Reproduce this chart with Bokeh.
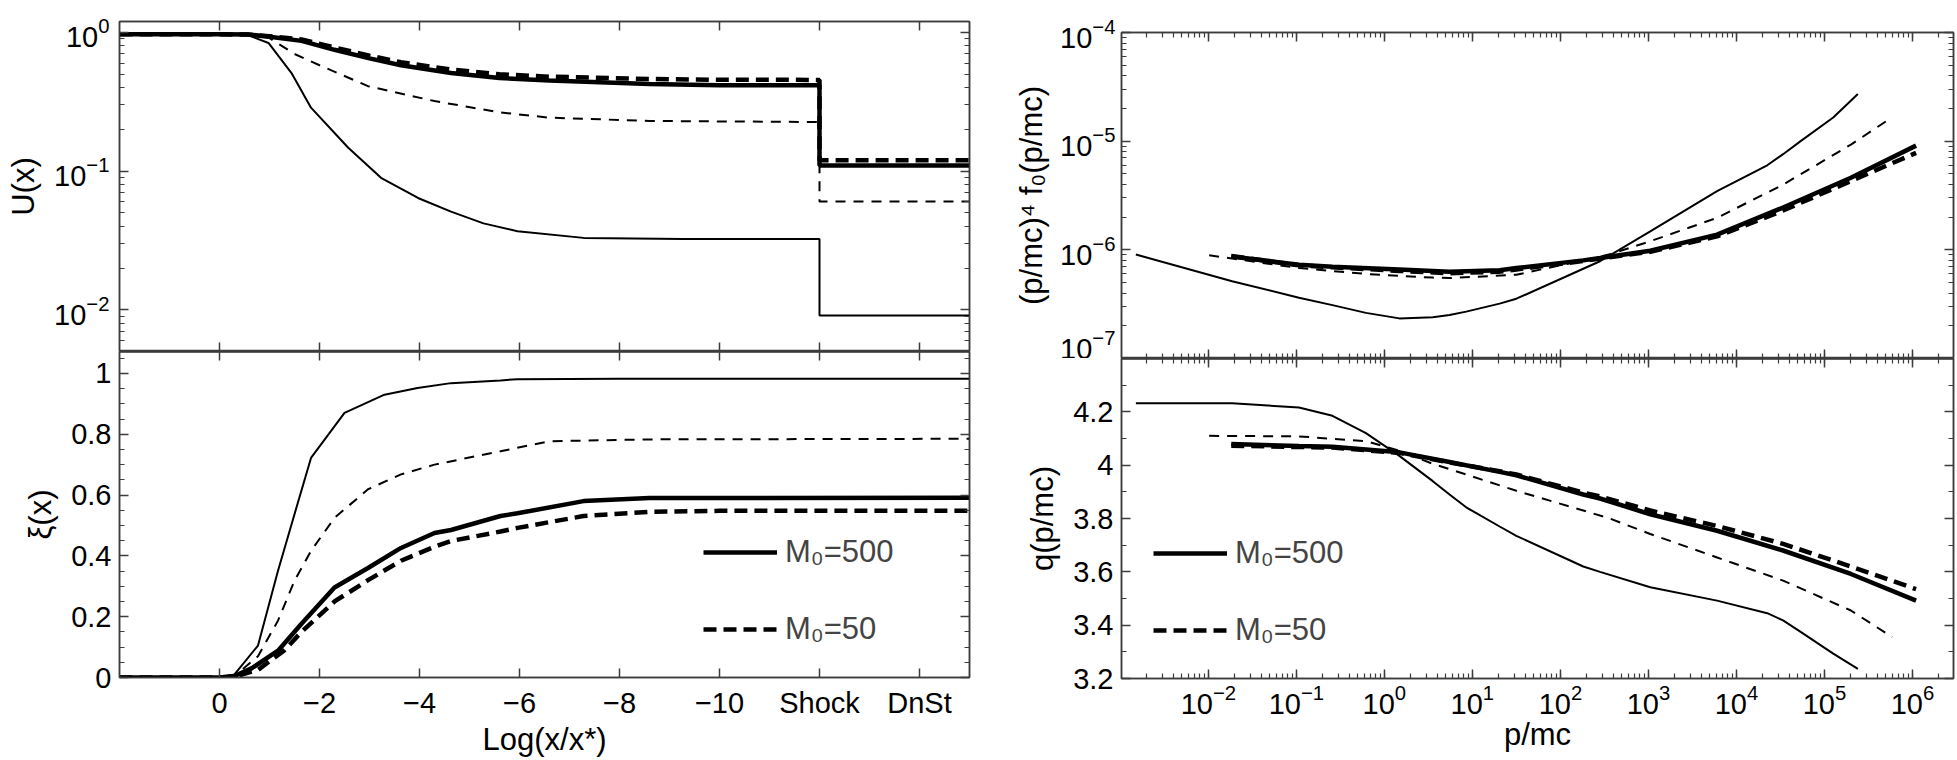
import numpy as np
from bokeh.plotting import figure
from bokeh.layouts import row, column
from bokeh.models import (LinearAxis, LogAxis, FixedTicker, LogTicker, Legend, LegendItem,
                          LogTickFormatter, Range1d)
from bokeh.embed import file_html
from bokeh.resources import INLINE

FONT = "Liberation Sans"
FS_TICK = "29px"
FS_LABEL = "31px"
FRAME = "#3c3c3c"

# ---------------- left panels: position axis (0 .. -10 = Log(x/x*), then Shock, DnSt) -------------
xtick_pos = [0, 2, 4, 6, 8, 10, 12, 14]
xtick_labels = ["0", "\u22122", "\u22124", "\u22126", "\u22128", "\u221210", "Shock", "DnSt"]

# U(x) panel
pos_u_thin = [-2, 0, 0.55, 0.98, 1.44, 1.83, 2.57, 3.23, 3.97, 4.63, 5.28, 5.96, 7.28, 9.27, 12, 12, 15]
U_thin = [0.97, 0.97, 0.96, 0.84, 0.51, 0.287, 0.148, 0.0895, 0.064, 0.051, 0.042, 0.0368, 0.033, 0.0324, 0.0324, 0.00908, 0.00908]
pos_u_thindash = [-2, 0, 0.6, 0.98, 1.5, 2.03, 2.97, 4.3, 5.62, 6.6, 8.6, 12, 12, 15]
U_thindash = [0.97, 0.97, 0.96, 0.92, 0.70, 0.574, 0.41, 0.32, 0.265, 0.243, 0.23, 0.226, 0.0605, 0.0605]
pos_u_500 = [-2, 0, 0.6, 1.0, 1.64, 2.3, 3.0, 3.63, 4.63, 5.6, 6.6, 8.6, 10, 12, 12, 15]
U_500 = [0.97, 0.97, 0.965, 0.93, 0.87, 0.75, 0.65, 0.58, 0.51, 0.47, 0.45, 0.425, 0.417, 0.417, 0.110, 0.110]
pos_u_50 = [-2, 0, 0.6, 1.0, 1.64, 2.3, 3.0, 3.63, 4.63, 5.6, 6.6, 8.6, 10, 12, 12, 15]
U_50 = [0.97, 0.97, 0.965, 0.94, 0.89, 0.78, 0.68, 0.61, 0.54, 0.50, 0.48, 0.462, 0.456, 0.455, 0.12, 0.12]

# xi(x) panel
pos_xi_thin = [-2, 0, 0.3, 0.77, 1.17, 1.5, 1.83, 2.5, 3.3, 3.96, 4.63, 5.62, 5.96, 8.0, 15]
xi_thin = [0.0, 0.0, 0.01, 0.105, 0.351, 0.537, 0.722, 0.87, 0.93, 0.952, 0.968, 0.977, 0.981, 0.982, 0.982]
pos_xi_thindash = [-2, 0, 0.3, 0.77, 1.17, 1.5, 1.83, 2.3, 2.97, 3.63, 4.3, 5.62, 6.6, 8.6, 15]
xi_thindash = [0.0, 0.0, 0.005, 0.07, 0.187, 0.318, 0.416, 0.525, 0.619, 0.668, 0.70, 0.744, 0.777, 0.783, 0.785]
pos_xi_500 = [-2, 0, 0.3, 0.64, 1.17, 1.64, 2.3, 2.97, 3.63, 4.3, 4.63, 5.62, 5.96, 7.28, 8.6, 15]
xi_500 = [0.0, 0.0, 0.005, 0.03, 0.088, 0.177, 0.296, 0.36, 0.426, 0.475, 0.485, 0.531, 0.54, 0.58, 0.59, 0.591]
pos_xi_50 = [-2, 0, 0.3, 0.77, 1.3, 1.64, 2.3, 2.97, 3.63, 4.3, 4.63, 5.62, 5.96, 7.28, 8.6, 10, 15]
xi_50 = [0.0, 0.0, 0.003, 0.025, 0.09, 0.15, 0.25, 0.32, 0.384, 0.43, 0.449, 0.48, 0.492, 0.531, 0.545, 0.548, 0.548]

xi_ticks = [0, 0.2, 0.4, 0.6, 0.8, 1.0]
xi_tick_labels = ["0", "0.2", "0.4", "0.6", "0.8", "1"]

# ---------------- right panels: spectrum vs p/mc -------------
p_thin = [1.5e-3, 1.86e-2, 0.107, 0.257, 0.617, 1.48, 3.55, 5.5, 8.5, 20.4, 31.6, 182, 282, 1050, 6030, 2.24e4, 3.39e4, 5.37e4, 1.26e5, 2.4e5]
f_thin = [9.06e-7, 5.13e-7, 3.63e-7, 3.1e-7, 2.63e-7, 2.34e-7, 2.4e-7, 2.51e-7, 2.7e-7, 3.2e-7, 3.55e-7, 6.7e-7, 7.85e-7, 1.48e-6, 3.47e-6, 6.0e-6, 7.59e-6, 1.0e-5, 1.65e-5, 2.72e-5]
q_thin = [4.232, 4.232, 4.216, 4.185, 4.12, 4.035, 3.94, 3.89, 3.842, 3.77, 3.735, 3.62, 3.60, 3.542, 3.492, 3.445, 3.418, 3.375, 3.293, 3.236]
p_thindash = [1.02e-2, 0.107, 0.617, 1.48, 3.55, 5.5, 31.6, 182, 363, 1050, 6030, 3.39e4, 2.0e5, 5.9e5]
f_thindash = [8.9e-7, 6.8e-7, 6.0e-7, 5.75e-7, 5.55e-7, 5.5e-7, 5.9e-7, 8.0e-7, 9.1e-7, 1.2e-6, 1.97e-6, 3.98e-6, 9.3e-6, 1.66e-5]
q_thindash = [4.11, 4.108, 4.09, 4.054, 4.005, 3.985, 3.904, 3.83, 3.80, 3.742, 3.654, 3.567, 3.455, 3.355]
p_thick = [1.82e-2, 0.107, 0.257, 1.48, 5.5, 20.4, 31.6, 182, 282, 1050, 6030, 3.39e4, 2.0e5, 1.1e6]
f_500 = [8.7e-7, 7.3e-7, 7.0e-7, 6.6e-7, 6.3e-7, 6.5e-7, 6.8e-7, 8.0e-7, 8.4e-7, 9.8e-7, 1.38e-6, 2.45e-6, 4.6e-6, 9.1e-6]
f_50 = [8.8e-7, 7.2e-7, 6.9e-7, 6.4e-7, 6.1e-7, 6.3e-7, 6.6e-7, 7.9e-7, 8.3e-7, 9.6e-7, 1.33e-6, 2.3e-6, 4.3e-6, 7.8e-6]
q_500 = [4.079, 4.072, 4.069, 4.048, 4.012, 3.975, 3.962, 3.89, 3.875, 3.816, 3.754, 3.68, 3.592, 3.492]
q_50 = [4.073, 4.068, 4.066, 4.046, 4.010, 3.977, 3.965, 3.897, 3.883, 3.83, 3.772, 3.705, 3.62, 3.535]

q_ticks = [3.2, 3.4, 3.6, 3.8, 4.0, 4.2]
q_tick_labels = ["3.2", "3.4", "3.6", "3.8", "4", "4.2"]

legend_labels = ["M\u2080=500", "M\u2080=50"]


# ---------------- helpers -------------
def style_axis(ax, show_labels=True, line_width=1.5):
    ax.major_tick_in = 9
    ax.major_tick_out = 0
    ax.minor_tick_in = 5
    ax.minor_tick_out = 0
    ax.axis_line_color = FRAME
    ax.axis_line_width = line_width
    ax.major_tick_line_color = FRAME
    ax.minor_tick_line_color = FRAME
    ax.major_tick_line_width = 1.5
    ax.minor_tick_line_width = 1.2
    ax.major_label_text_font = FONT
    ax.major_label_text_font_size = FS_TICK
    ax.major_label_text_color = "black"
    ax.axis_label_text_font = FONT
    ax.axis_label_text_font_size = FS_LABEL
    ax.axis_label_text_font_style = "normal"
    ax.axis_label_text_color = "black"
    ax.axis_label_standoff = 10
    if show_labels:
        ax.major_label_standoff = 10
    else:
        # tick-only axis (mirrored frame ticks): labels made tiny and transparent
        ax.major_label_text_font_size = "1px"
        ax.major_label_text_alpha = 0
        ax.major_label_standoff = 0


def make_fig(w, h, bl, br, bt, bb, x_type, y_type, x_range, y_range):
    p = figure(width=w, height=h, x_axis_type=x_type, y_axis_type=y_type,
               x_range=x_range, y_range=y_range, output_backend="svg", toolbar_location=None,
               min_border_left=bl, min_border_right=br, min_border_top=bt, min_border_bottom=bb)
    p.grid.visible = False
    p.outline_line_color = FRAME
    p.outline_line_width = 1.5
    p.background_fill_color = "white"
    p.border_fill_color = "white"
    return p


def mirror_x(p, ticker, log=False, lw=1.5):
    ax = LogAxis(ticker=ticker) if log else LinearAxis(ticker=ticker)
    style_axis(ax, show_labels=False, line_width=lw)
    p.add_layout(ax, "above")
    return ax


def mirror_y(p, ticker, log=False):
    ax = LogAxis(ticker=ticker) if log else LinearAxis(ticker=ticker)
    style_axis(ax, show_labels=False)
    p.add_layout(ax, "right")
    return ax


def make_legend(r_solid, r_dash, loc):
    return Legend(items=[LegendItem(label=legend_labels[0], renderers=[r_solid]),
                         LegendItem(label=legend_labels[1], renderers=[r_dash])],
                  location=loc, glyph_width=74, glyph_height=30, spacing=41,
                  label_text_font=FONT, label_text_font_size=FS_LABEL, label_standoff=8,
                  background_fill_alpha=0, border_line_alpha=0, padding=10)


THIN = 2.0
THICK = 4.5

# ---------------- top-left: U(x) -------------
pos_ticker = FixedTicker(ticks=xtick_pos, minor_ticks=[])
tl = make_fig(1000, 351, 119, 31, 21, 0, "linear", "log", Range1d(-2, 15), Range1d(0.005, 1.2))
tl.line(pos_u_thin, U_thin, line_color="black", line_width=THIN)
tl.line(pos_u_thindash, U_thindash, line_color="black", line_width=THIN, line_dash="10 8")
tl.line(pos_u_500, U_500, line_color="black", line_width=THICK)
tl.line(pos_u_50, U_50, line_color="black", line_width=THICK, line_dash="13 7")
tl.xaxis.ticker = pos_ticker
for ax in tl.xaxis:
    style_axis(ax, show_labels=False, line_width=2.5)
tl.yaxis.ticker = LogTicker(num_minor_ticks=10)
tl.yaxis.formatter = LogTickFormatter()
for ax in tl.yaxis:
    style_axis(ax)
tl.yaxis.axis_label = "U(x)"
mirror_x(tl, pos_ticker)
mirror_y(tl, LogTicker(num_minor_ticks=10), log=True)

# ---------------- bottom-left: xi(x) -------------
xi_minor = [round(0.05 * i, 2) for i in range(0, 22)]
xi_ticker = FixedTicker(ticks=xi_ticks, minor_ticks=xi_minor)
bl = make_fig(1000, 409, 119, 31, 0, 83, "linear", "linear", Range1d(-2, 15), Range1d(0, 1.072))
bl.line(pos_xi_thin, xi_thin, line_color="black", line_width=THIN)
bl.line(pos_xi_thindash, xi_thindash, line_color="black", line_width=THIN, line_dash="10 8")
r500 = bl.line(pos_xi_500, xi_500, line_color="black", line_width=THICK)
r50 = bl.line(pos_xi_50, xi_50, line_color="black", line_width=THICK, line_dash="13 7")
bl.xaxis.ticker = pos_ticker
bl.xaxis.major_label_overrides = {float(k): v for k, v in zip(xtick_pos, xtick_labels)}
for ax in bl.xaxis:
    style_axis(ax)
bl.xaxis.major_label_standoff = 9
bl.xaxis.axis_label = "Log(x/x*)"
bl.xaxis.axis_label_standoff = 0
bl.yaxis.ticker = xi_ticker
bl.yaxis.major_label_overrides = {float(k): v for k, v in zip(xi_ticks, xi_tick_labels)}
for ax in bl.yaxis:
    style_axis(ax)
bl.yaxis.major_label_standoff = 8
bl.yaxis.axis_label = "\u03be(x)"
mirror_x(bl, pos_ticker, lw=2.5)
mirror_y(bl, xi_ticker)
bl.add_layout(make_legend(r500, r50, (574, 20)))

# ---------------- top-right: spectrum -------------
tr = make_fig(957, 358, 121, 4, 32, 0, "log", "log", Range1d(1.03e-3, 2.93e6), Range1d(1e-7, 1e-4))
tr.line(p_thin, f_thin, line_color="black", line_width=THIN)
tr.line(p_thindash, f_thindash, line_color="black", line_width=THIN, line_dash="10 8")
tr.line(p_thick, f_500, line_color="black", line_width=THICK)
tr.line(p_thick, f_50, line_color="black", line_width=THICK, line_dash="13 7")
tr.xaxis.ticker = LogTicker(desired_num_ticks=12, num_minor_ticks=10)
for ax in tr.xaxis:
    style_axis(ax, show_labels=False, line_width=2.5)
tr.yaxis.ticker = LogTicker(num_minor_ticks=10)
tr.yaxis.formatter = LogTickFormatter()
for ax in tr.yaxis:
    style_axis(ax)
tr.yaxis.major_label_standoff = 6
tr.yaxis.axis_label_standoff = 8
tr.yaxis.axis_label = "(p/mc)\u2074 f\u2080(p/mc)"
mirror_x(tr, LogTicker(desired_num_ticks=12, num_minor_ticks=10), log=True)
mirror_y(tr, LogTicker(num_minor_ticks=10), log=True)

# ---------------- bottom-right: q -------------
q_minor = [round(3.2 + 0.1 * i, 2) for i in range(0, 13)]
q_ticker = FixedTicker(ticks=q_ticks, minor_ticks=q_minor)
br = make_fig(957, 402, 121, 4, 0, 82, "log", "linear", Range1d(1.03e-3, 2.93e6), Range1d(3.2, 4.4))
br.line(p_thin, q_thin, line_color="black", line_width=THIN)
br.line(p_thindash, q_thindash, line_color="black", line_width=THIN, line_dash="10 8")
rq500 = br.line(p_thick, q_500, line_color="black", line_width=THICK)
rq50 = br.line(p_thick, q_50, line_color="black", line_width=THICK, line_dash="13 7")
br.xaxis.ticker = LogTicker(desired_num_ticks=12, num_minor_ticks=10)
br.xaxis.formatter = LogTickFormatter()
for ax in br.xaxis:
    style_axis(ax)
br.xaxis.major_label_standoff = 5
br.xaxis.axis_label = "p/mc"
br.xaxis.axis_label_standoff = 0
br.yaxis.ticker = q_ticker
br.yaxis.major_label_overrides = {float(k): v for k, v in zip(q_ticks, q_tick_labels)}
for ax in br.yaxis:
    style_axis(ax)
br.yaxis.major_label_standoff = 8
br.yaxis.axis_label = "q(p/mc)"
mirror_x(br, LogTicker(desired_num_ticks=12, num_minor_ticks=10), log=True, lw=2.5)
mirror_y(br, q_ticker)
br.add_layout(make_legend(rq500, rq50, (22, 20)))

layout = row(column(tl, bl), column(tr, br))
open("out.html", "w").write(file_html(layout, INLINE))
